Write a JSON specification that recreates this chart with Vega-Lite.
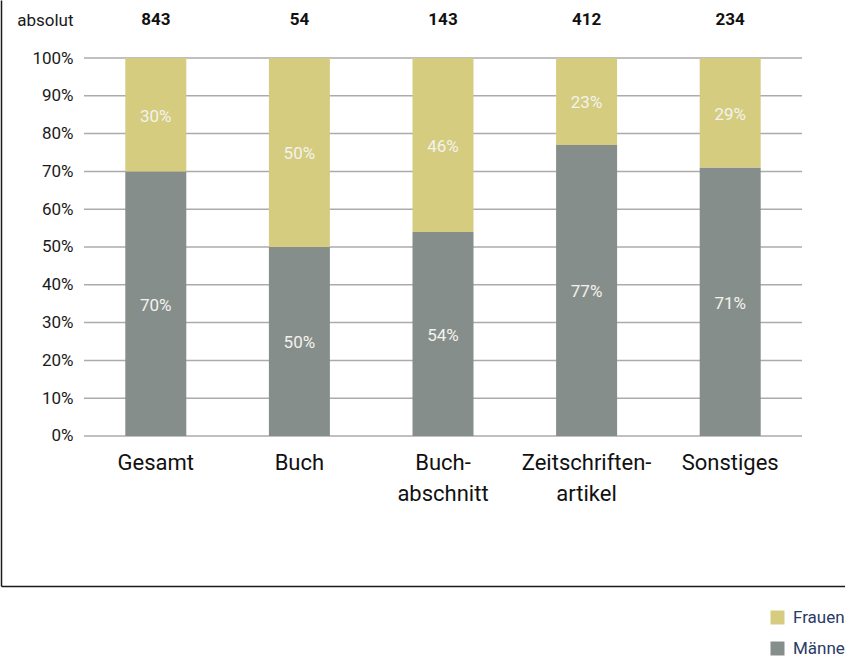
{
  "$schema": "https://vega.github.io/schema/vega-lite/v6.json",
  "width": 844,
  "height": 586,
  "autosize": {"type": "none"},
  "padding": {"left": 1, "top": 0, "right": 0, "bottom": 70},
  "background": "white",
  "config": {
    "view": {"stroke": null},
    "font": "Roboto, DejaVu Sans Condensed, sans-serif"
  },
  "datasets": {
    "anteile": [
      {"kategorie": "Gesamt", "geschlecht": "Männer", "anteil": 0.70},
      {"kategorie": "Gesamt", "geschlecht": "Frauen", "anteil": 0.30},
      {"kategorie": "Buch", "geschlecht": "Männer", "anteil": 0.50},
      {"kategorie": "Buch", "geschlecht": "Frauen", "anteil": 0.50},
      {"kategorie": "Buchabschnitt", "geschlecht": "Männer", "anteil": 0.54},
      {"kategorie": "Buchabschnitt", "geschlecht": "Frauen", "anteil": 0.46},
      {"kategorie": "Zeitschriftenartikel", "geschlecht": "Männer", "anteil": 0.77},
      {"kategorie": "Zeitschriftenartikel", "geschlecht": "Frauen", "anteil": 0.23},
      {"kategorie": "Sonstiges", "geschlecht": "Männer", "anteil": 0.71},
      {"kategorie": "Sonstiges", "geschlecht": "Frauen", "anteil": 0.29}
    ],
    "absolut": [
      {"kategorie": "Gesamt", "n": 843},
      {"kategorie": "Buch", "n": 54},
      {"kategorie": "Buchabschnitt", "n": 143},
      {"kategorie": "Zeitschriftenartikel", "n": 412},
      {"kategorie": "Sonstiges", "n": 234}
    ],
    "raster": [
      {"g": 0}, {"g": 0.1}, {"g": 0.2}, {"g": 0.3}, {"g": 0.4}, {"g": 0.5},
      {"g": 0.6}, {"g": 0.7}, {"g": 0.8}, {"g": 0.9}, {"g": 1}
    ]
  },
  "layer": [
    {
      "data": {"name": "raster"},
      "mark": {"type": "rule", "color": "#ababab", "strokeWidth": 1.5},
      "encoding": {
        "x": {"datum": "Gesamt", "bandPosition": 0},
        "x2": {"datum": "Sonstiges", "bandPosition": 1},
        "y": {"field": "g", "type": "quantitative"}
      }
    },
    {
      "data": {"name": "anteile"},
      "mark": {"type": "bar", "size": 61},
      "encoding": {
        "x": {
          "field": "kategorie",
          "type": "nominal",
          "scale": {
            "domain": ["Gesamt", "Buch", "Buchabschnitt", "Zeitschriftenartikel", "Sonstiges"],
            "paddingInner": 0,
            "paddingOuter": 0.4387,
            "align": 0.6587
          },
          "axis": {
            "title": null,
            "orient": "bottom",
            "domainColor": "#1a1a1a",
            "domainWidth": 1.5,
            "ticks": false,
            "labelAngle": 0,
            "labelAlign": "center",
            "labelPadding": -134,
            "labelBaseline": "top",
            "labelFontSize": 22,
            "labelLineHeight": 31,
            "labelColor": "#111111",
            "labelExpr": "datum.label == 'Buchabschnitt' ? ['Buch-', 'abschnitt'] : datum.label == 'Zeitschriftenartikel' ? ['Zeitschriften-', 'artikel'] : datum.label"
          }
        },
        "y": {
          "field": "anteil",
          "type": "quantitative",
          "stack": "zero",
          "scale": {"domain": [-0.39683, 1.15344], "nice": false, "zero": false},
          "axis": {
            "title": null,
            "domainColor": "#1a1a1a",
            "domainWidth": 1.5,
            "ticks": false,
            "grid": false,
            "values": [0, 0.1, 0.2, 0.3, 0.4, 0.5, 0.6, 0.7, 0.8, 0.9, 1, 1.1],
            "labelExpr": "datum.value > 1.05 ? 'absolut' : format(datum.value, '.0%')",
            "labelPadding": -72,
            "labelFontSize": 17,
            "labelColor": "#1a1a1a",
            "labelOverlap": false
          }
        },
        "color": {
          "field": "geschlecht",
          "type": "nominal",
          "scale": {"domain": ["Frauen", "Männer"], "range": ["#d5cc80", "#868e8b"]},
          "legend": {
            "orient": "none",
            "legendX": 768,
            "legendY": 609,
            "title": null,
            "symbolType": "square",
            "symbolSize": 196,
            "symbolStrokeWidth": 0,
            "labelFontSize": 17,
            "labelColor": "#2b3a66",
            "labelOffset": 7,
            "rowPadding": 13
          }
        },
        "order": {"field": "geschlecht", "sort": "descending"}
      }
    },
    {
      "data": {"name": "anteile"},
      "mark": {"type": "text", "fontSize": 17, "color": "#f3f3ee", "baseline": "middle", "dy": 2},
      "encoding": {
        "x": {"field": "kategorie", "type": "nominal"},
        "y": {"field": "anteil", "type": "quantitative", "stack": "zero", "bandPosition": 0.5},
        "text": {"field": "anteil", "type": "quantitative", "format": ".0%"},
        "order": {"field": "geschlecht", "sort": "descending"}
      }
    },
    {
      "data": {"name": "absolut"},
      "mark": {"type": "text", "fontSize": 17, "fontWeight": "bold", "color": "#111111", "baseline": "middle"},
      "encoding": {
        "x": {"field": "kategorie", "type": "nominal"},
        "y": {"datum": 1.1},
        "text": {"field": "n", "type": "quantitative"}
      }
    }
  ]
}
